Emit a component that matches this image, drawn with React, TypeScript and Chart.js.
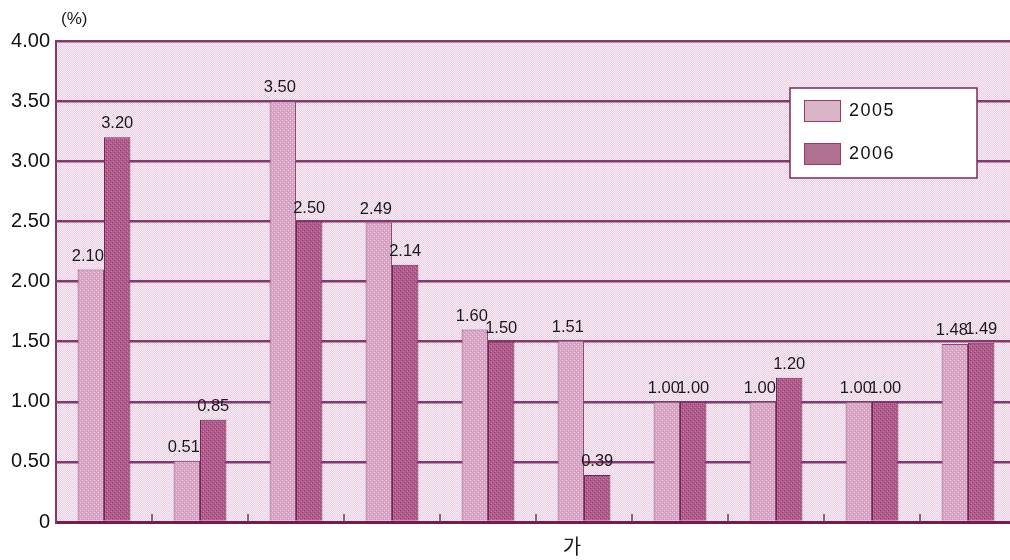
import React, { useEffect, useRef } from "react";
import { Chart, registerables } from "chart.js";

Chart.register(...registerables);

const categories = ["1", "2", "3", "4", "5", "6", "7", "8", "9", "10"];
const seriesNames = ["2005", "2006"];
const values2005 = [2.1, 0.51, 3.5, 2.49, 1.6, 1.51, 1.0, 1.0, 1.0, 1.48];
const values2006 = [3.2, 0.85, 2.5, 2.14, 1.5, 0.39, 1.0, 1.2, 1.0, 1.49];
const yTicks = [0, 0.5, 1, 1.5, 2, 2.5, 3, 3.5, 4];
const unitLabel = "(%)";
const xTitle = "가";

const swatch2005 = "#d8b6c8";
const swatch2006 = "#b07090";

function makePattern(rows: string[][]): CanvasPattern | string {
  const c = document.createElement("canvas");
  const h = rows.length;
  const w = rows[0].length;
  c.width = w;
  c.height = h;
  const ctx = c.getContext("2d");
  if (!ctx) return rows[0][0];
  for (let y = 0; y < h; y++) {
    for (let x = 0; x < w; x++) {
      ctx.fillStyle = rows[y][x];
      ctx.fillRect(x, y, 1, 1);
    }
  }
  const p = ctx.createPattern(c, "repeat");
  return p || rows[0][0];
}

export default function App() {
  const ref = useRef<HTMLCanvasElement | null>(null);

  useEffect(() => {
    if (!ref.current) return;
    const P = "#f6c6e6", G = "#dad6da", W = "#fbecf7";
    const bgPattern = makePattern([
      [W, P, W, G],
      [P, W, G, W],
      [W, G, W, P],
      [G, W, P, W],
    ]);
    const a = "#d9a4c6", b = "#ecccE0", c1 = "#c4a0b6";
    const pat2005 = makePattern([
      [a, a, b, a],
      [a, c1, a, a],
      [b, a, a, a],
      [a, a, a, c1],
    ]);
    const d = "#b05e8c", e = "#963670", f = "#c078a0";
    const pat2006 = makePattern([
      [d, d, e, d],
      [d, f, d, d],
      [e, d, d, d],
      [d, d, d, f],
    ]);

    const decor = {
      id: "decor",
      beforeDraw(chart: any) {
        const { ctx, chartArea } = chart;
        ctx.save();
        ctx.fillStyle = "#ffffff";
        ctx.fillRect(0, 0, chart.width, chart.height);
        ctx.fillStyle = bgPattern;
        ctx.fillRect(chartArea.left, chartArea.top, chartArea.right - chartArea.left, chartArea.bottom - chartArea.top);
        ctx.restore();
      },
      afterDatasetsDraw(chart: any) {
        const { ctx, chartArea, scales } = chart;
        const xs = scales.x;
        ctx.save();
        // small category separator ticks
        ctx.strokeStyle = "#5a4a52";
        ctx.lineWidth = 1.5;
        for (let i = 1; i < categories.length; i++) {
          const x = (xs.getPixelForValue(i - 1) + xs.getPixelForValue(i)) / 2;
          ctx.beginPath();
          ctx.moveTo(x, chartArea.bottom);
          ctx.lineTo(x, chartArea.bottom - 8);
          ctx.stroke();
        }
        // value labels
        ctx.fillStyle = "#1a1a1a";
        ctx.font = "16.5px 'Liberation Sans', Arial, sans-serif";
        ctx.textAlign = "center";
        ctx.textBaseline = "bottom";
        chart.data.datasets.forEach((ds: any, di: number) => {
          const meta = chart.getDatasetMeta(di);
          meta.data.forEach((bar: any, i: number) => {
            const dx = di === 0 ? -3 : 0;
            ctx.fillText((ds.data[i] as number).toFixed(2), bar.x + dx, bar.y - 5);
          });
        });
        // unit label
        ctx.font = "17px 'Liberation Sans', Arial, sans-serif";
        ctx.textAlign = "left";
        ctx.textBaseline = "middle";
        ctx.fillText(unitLabel, 61, 19);
        // x title
        ctx.font = "20px 'Noto Sans CJK KR', sans-serif";
        ctx.textAlign = "center";
        ctx.fillText(xTitle, 572, 546);
        // legend
        ctx.fillStyle = "#ffffff";
        ctx.fillRect(790, 88, 187, 90);
        ctx.strokeStyle = "#7a2a58";
        ctx.lineWidth = 1.5;
        ctx.strokeRect(790, 88, 187, 90);
        const sw = [swatch2005, swatch2006];
        seriesNames.forEach((name, i) => {
          const y = 100 + i * 43;
          ctx.fillStyle = sw[i];
          ctx.fillRect(804, y, 37, 22);
          ctx.strokeStyle = "#9a3a6c";
          ctx.lineWidth = 1;
          ctx.strokeRect(804.5, y + 0.5, 36, 21);
          ctx.fillStyle = "#111";
          ctx.font = "18px 'Liberation Sans', Arial, sans-serif";
          (ctx as any).letterSpacing = "1.5px";
          ctx.textAlign = "left";
          ctx.textBaseline = "middle";
          ctx.fillText(name, 849, y + 11);
          (ctx as any).letterSpacing = "0px";
        });
        ctx.restore();
      },
    };

    const chart = new Chart(ref.current, {
      type: "bar",
      data: {
        labels: categories,
        datasets: [
          {
            label: seriesNames[0],
            data: values2005,
            backgroundColor: pat2005,
            borderColor: "#8a4a70",
            borderWidth: 1,
            categoryPercentage: 0.55,
            barPercentage: 1,
          },
          {
            label: seriesNames[1],
            data: values2006,
            backgroundColor: pat2006,
            borderColor: "#7a2252",
            borderWidth: 1,
            categoryPercentage: 0.55,
            barPercentage: 1,
          },
        ],
      },
      options: {
        animation: false,
        responsive: true,
        maintainAspectRatio: false,
        devicePixelRatio: 1,
        layout: { padding: { left: 0, top: 41, right: 0, bottom: 0 } },
        plugins: { legend: { display: false }, tooltip: { enabled: false }, title: { display: false } },
        scales: {
          x: {
            ticks: { display: false },
            grid: { display: false },
            border: { display: true, color: "#7a1a4c", width: 3 },
            afterFit: (s: any) => {
              s.height = 38;
            },
          },
          y: {
            min: 0,
            max: 4,
            afterBuildTicks: (s: any) => {
              s.ticks = yTicks.map((v) => ({ value: v }));
            },
            ticks: {
              padding: 6,
              color: "#111",
              font: { size: 20, family: "'Liberation Sans', Arial, sans-serif" },
              callback: (v: any) => (Number(v) === 0 ? "0" : Number(v).toFixed(2)),
            },
            grid: { color: "#86386a", lineWidth: 2.5, drawTicks: false },
            border: { display: true, color: "#86386a", width: 2 },
            afterFit: (s: any) => {
              s.width = 56;
            },
          },
        },
      },
      plugins: [decor],
    } as any);
    return () => chart.destroy();
  }, []);

  return (
    <div style={{ position: "fixed", left: 0, top: 0, width: 1016, height: 560, background: "#fff" }}>
      <canvas ref={ref} />
    </div>
  );
}
